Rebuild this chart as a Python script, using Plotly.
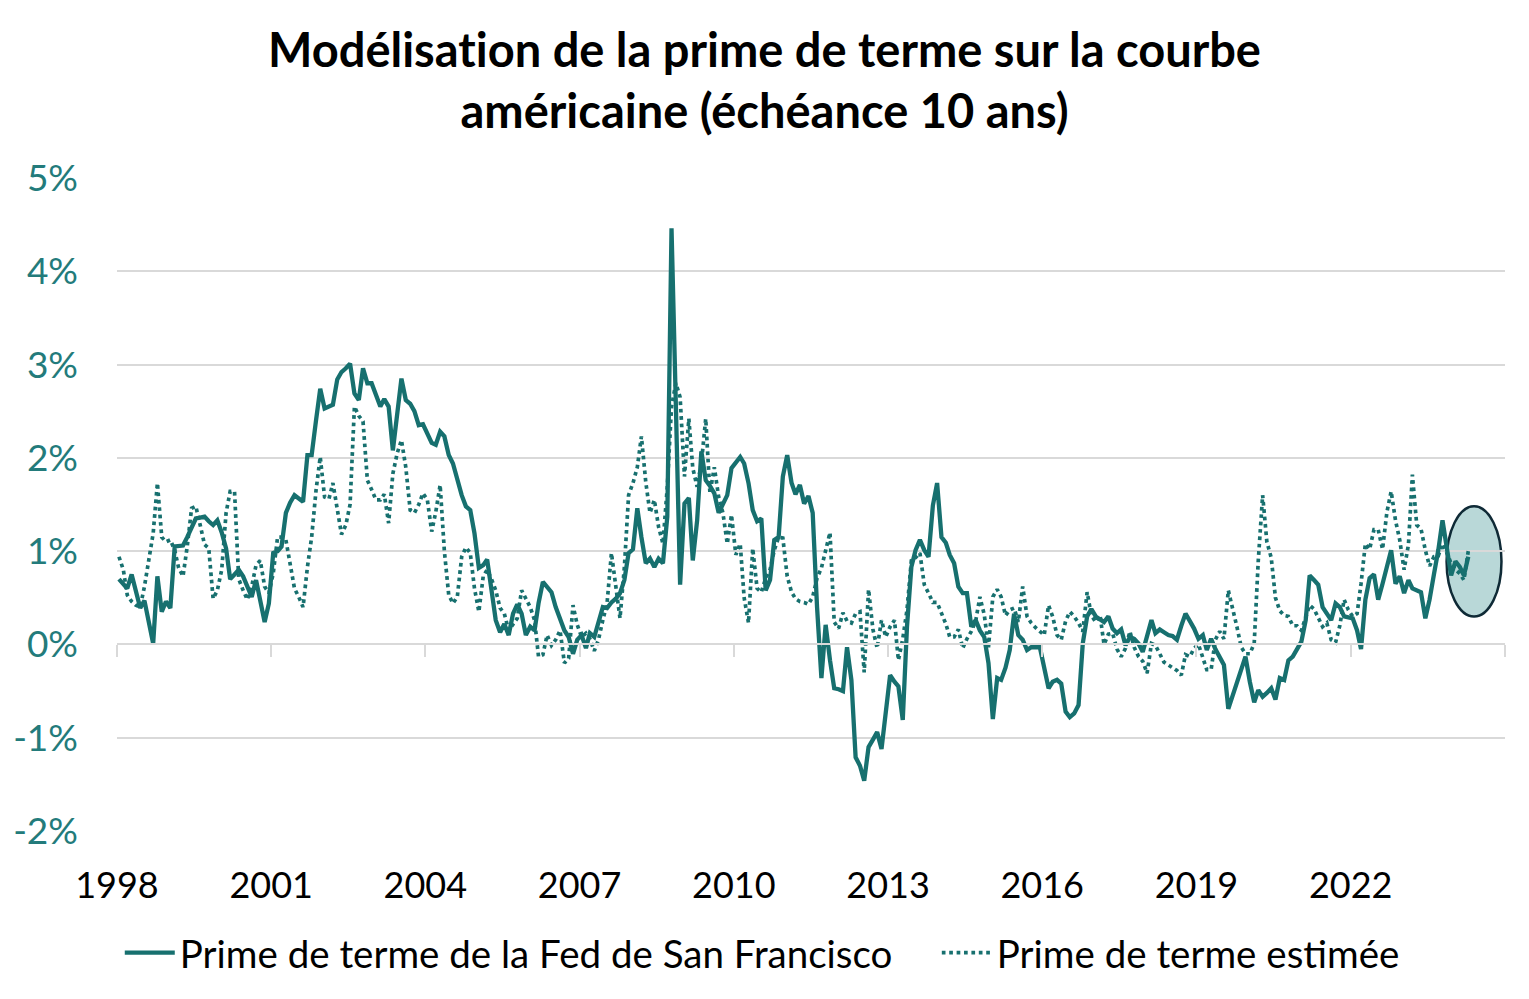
import pandas as pd
import plotly.graph_objects as go

# ---------------- data (monthly, Jan 1998 -> Apr 2024, values in %) ----------------
fed_1998_2003 = [
    0.70, 0.65, 0.60, 0.75, 0.55, 0.39, 0.47, 0.25, 0.01, 0.73, 0.35, 0.46,
    0.39, 1.05, 1.06, 1.06, 1.15, 1.26, 1.35, 1.36, 1.37, 1.32, 1.28, 1.33,
    1.20, 1.03, 0.70, 0.75, 0.80, 0.73, 0.62, 0.51, 0.69, 0.45, 0.24, 0.44,
    0.98, 1.00, 1.05, 1.41, 1.52, 1.60, 1.56, 1.53, 2.03, 2.03, 2.40, 2.74,
    2.53, 2.55, 2.57, 2.84, 2.92, 2.96, 3.01, 2.69, 2.62, 2.96, 2.80, 2.80,
    2.68, 2.55, 2.63, 2.55, 2.08, 2.45, 2.85, 2.62, 2.58, 2.50, 2.35, 2.36,
]
fed_2004_2009 = [
    2.25, 2.16, 2.14, 2.28, 2.23, 2.03, 1.94, 1.76, 1.60, 1.48, 1.44, 1.19,
    0.82, 0.85, 0.91, 0.58, 0.26, 0.13, 0.22, 0.10, 0.33, 0.43, 0.33, 0.10,
    0.19, 0.15, 0.44, 0.67, 0.62, 0.56, 0.40, 0.28, 0.15, 0.08, -0.10, 0.05,
    0.10, -0.04, 0.12, 0.08, 0.23, 0.40, 0.39, 0.45, 0.49, 0.55, 0.69, 0.98,
    1.02, 1.46, 1.15, 0.87, 0.92, 0.83, 0.92, 0.87, 1.37, 4.46, 2.55, 0.64,
    1.51, 1.57, 0.90, 1.33, 2.07, 1.76, 1.70, 1.62, 1.41, 1.50, 1.60, 1.89,
]
fed_2010_2015 = [
    1.96, 2.01, 1.94, 1.73, 1.44, 1.32, 1.35, 0.58, 0.69, 1.12, 1.15, 1.80,
    2.03, 1.73, 1.61, 1.71, 1.51, 1.59, 1.41, 0.40, -0.36, 0.21, -0.17, -0.47,
    -0.48, -0.50, -0.03, -0.38, -1.21, -1.30, -1.46, -1.10, -1.02, -0.94, -1.12, -0.70,
    -0.33, -0.40, -0.45, -0.81, 0.19, 0.83, 1.01, 1.12, 1.01, 0.94, 1.49, 1.73,
    1.15, 1.09, 0.96, 0.87, 0.62, 0.55, 0.55, 0.19, 0.26, 0.15, 0.08, -0.20,
    -0.80, -0.36, -0.38, -0.25, -0.06, 0.33, 0.10, 0.05, -0.06, -0.03, -0.03, -0.03,
]
fed_2016_2024 = [
    -0.25, -0.47, -0.40, -0.38, -0.42, -0.72, -0.78, -0.74, -0.65, 0.01, 0.30, 0.38,
    0.30, 0.27, 0.24, 0.30, 0.17, 0.12, 0.16, -0.01, 0.08, 0.06, 0.01, -0.08,
    0.08, 0.26, 0.12, 0.16, 0.13, 0.10, 0.09, 0.05, 0.20, 0.33, 0.25, 0.17,
    0.06, 0.10, -0.06, 0.06, -0.05, -0.13, -0.22, -0.69, -0.55, -0.41, -0.27, -0.13,
    -0.40, -0.62, -0.49, -0.56, -0.52, -0.47, -0.59, -0.36, -0.38, -0.17, -0.13, -0.05,
    0.03, 0.26, 0.74, 0.69, 0.64, 0.40, 0.33, 0.26, 0.44, 0.40, 0.30, 0.29,
    0.28, 0.15, -0.05, 0.48, 0.71, 0.75, 0.48, 0.65, 0.83, 1.01, 0.65, 0.73,
    0.55, 0.69, 0.60, 0.58, 0.56, 0.28, 0.48, 0.75, 1.01, 1.33, 1.01, 0.74,
    0.89, 0.83, 0.74, 0.94,
]

est_1998_2003 = [
    0.94, 0.80, 0.53, 0.46, 0.42, 0.40, 0.62, 0.90, 1.19, 1.73, 1.15, 1.10,
    1.12, 1.01, 0.82, 0.73, 1.05, 1.46, 1.48, 1.28, 1.07, 1.03, 0.49, 0.58,
    0.80, 1.41, 1.64, 1.64, 0.70, 0.58, 0.48, 0.62, 0.85, 0.90, 0.62, 0.55,
    0.76, 1.15, 1.15, 1.12, 0.85, 0.60, 0.51, 0.40, 0.83, 1.15, 1.65, 2.01,
    1.58, 1.56, 1.73, 1.45, 1.18, 1.28, 1.50, 2.55, 2.45, 2.39, 1.76, 1.66,
    1.55, 1.55, 1.61, 1.30, 1.83, 2.05, 2.19, 1.90, 1.44, 1.41, 1.50, 1.62,
]
est_2004_2009 = [
    1.55, 1.21, 1.42, 1.71, 1.00, 0.53, 0.44, 0.51, 0.94, 1.04, 0.98, 0.60,
    0.35, 0.73, 0.80, 0.70, 0.58, 0.39, 0.33, 0.15, 0.22, 0.28, 0.58, 0.48,
    0.40, 0.26, -0.13, -0.11, 0.10, -0.01, 0.05, 0.15, -0.20, -0.15, 0.42, 0.21,
    0.08, 0.12, 0.06, -0.07, 0.05, 0.26, 0.44, 0.98, 0.60, 0.28, 0.83, 1.60,
    1.73, 1.90, 2.23, 1.74, 1.41, 1.55, 1.26, 1.08, 1.69, 2.55, 2.80, 2.65,
    1.80, 2.42, 1.89, 1.69, 1.94, 2.42, 1.62, 1.90, 1.58, 1.41, 1.08, 1.39,
]
est_2010_2015 = [
    0.96, 1.08, 0.50, 0.23, 1.03, 0.60, 0.56, 0.71, 0.80, 1.01, 1.15, 1.14,
    0.73, 0.56, 0.49, 0.46, 0.45, 0.43, 0.51, 0.71, 0.82, 1.01, 1.20, 0.24,
    0.17, 0.34, 0.25, 0.23, 0.33, 0.35, -0.30, 0.59, 0.16, -0.04, 0.26, 0.08,
    0.19, 0.26, -0.17, 0.06, 0.37, 0.90, 0.93, 0.98, 0.64, 0.55, 0.45, 0.45,
    0.34, 0.22, 0.08, 0.08, 0.16, -0.04, 0.06, 0.14, 0.25, 0.51, 0.32, -0.03,
    0.51, 0.59, 0.51, 0.31, 0.37, 0.39, 0.24, 0.62, 0.30, 0.23, 0.18, 0.14,
]
est_2016_2024 = [
    0.10, 0.42, 0.30, 0.10, 0.05, 0.25, 0.35, 0.30, 0.23, 0.14, 0.56, 0.31,
    0.24, 0.31, 0.00, 0.11, 0.12, -0.05, -0.13, -0.04, 0.14, -0.03, -0.13, -0.18,
    -0.31, 0.01, -0.01, -0.10, -0.19, -0.22, -0.25, -0.28, -0.33, -0.11, -0.13, -0.04,
    0.00, -0.16, -0.27, -0.27, 0.05, 0.14, 0.06, 0.58, 0.39, 0.19, -0.03, -0.10,
    -0.10, 0.01, 0.90, 1.60, 1.10, 0.93, 0.50, 0.36, 0.31, 0.30, 0.20, 0.20,
    0.15, 0.31, 0.42, 0.38, 0.28, 0.19, 0.23, 0.05, 0.02, 0.20, 0.48, 0.37,
    0.30, 0.33, 0.65, 1.08, 1.02, 1.23, 1.23, 1.02, 1.42, 1.64, 1.33, 1.12,
    0.80, 1.07, 1.82, 1.28, 1.24, 1.01, 0.84, 0.94, 0.95, 1.08, 0.98, 0.87,
    0.80, 0.76, 0.69, 1.00,
]

fed_values = fed_1998_2003 + fed_2004_2009 + fed_2010_2015 + fed_2016_2024
est_values = est_1998_2003 + est_2004_2009 + est_2010_2015 + est_2016_2024

start_month = "1998-01-01"
dates = pd.date_range(start_month, periods=len(fed_values), freq="MS") + pd.Timedelta(days=14)

series_names = ["Prime de terme de la Fed de San Francisco", "Prime de terme estimée"]
# (zero-width non-joiner keeps the "ti" pair from being drawn as a ligature)
title_text = "Modélisat\u200cion de la prime de terme sur la courbe<br>américaine (échéance 10 ans)"

y_tick_vals = [-2, -1, 0, 1, 2, 3, 4, 5]
y_tick_text = ["-2%", "-1%", "0%", "1%", "2%", "3%", "4%", "5%"]
x_label_years = ["1998", "2001", "2004", "2007", "2010", "2013", "2016", "2019", "2022"]
x_tick_years = x_label_years + ["2025"]

# highlight ellipse around the latest readings
ellipse_x = ["2023-11-13", "2024-12-07"]
ellipse_y = [0.30, 1.48]

# ---------------- styling ----------------
TEAL = "#17706f"
TICK_TEAL = "#237b7b"
GRID = "#d9d9d9"
FONT = "Lato"
LEGEND_PAD = "\u00a0" * 4  # extra spacing between the two legend entries

fig = go.Figure()
fig.add_trace(go.Scatter(
    x=dates, y=fed_values, name=series_names[0] + LEGEND_PAD, mode="lines",
    line=dict(color=TEAL, width=4.3),
))
fig.add_trace(go.Scatter(
    x=dates, y=est_values, name=series_names[1], mode="lines",
    line=dict(color=TEAL, width=3.7, dash="dot"),
))
# helper trace so the tick axis drawn on the 0% line is rendered
fig.add_trace(go.Scatter(
    x=[dates[0]], y=[None], xaxis="x2", yaxis="y", showlegend=False,
    hoverinfo="skip", mode="lines",
))

x_range = ["1998-01-01", "2025-01-01"]
tick_dates = [f"{y}-01-01" for y in x_tick_years]
label_dates = [f"{y}-01-01" for y in x_label_years]

fig.update_layout(
    width=1529, height=999,
    paper_bgcolor="white", plot_bgcolor="white",
    margin=dict(l=117, r=24, t=178, b=168, autoexpand=False),
    font=dict(family=FONT, color="black", size=36),
    title=dict(
        text=title_text, x=0.5, xref="container", xanchor="center",
        y=0.933, yref="container", yanchor="top",
        font=dict(family=FONT, size=47, color="black", weight="bold"),
    ),
    xaxis=dict(
        type="date", range=x_range,
        tickmode="array", tickvals=label_dates, ticktext=x_label_years,
        showgrid=False, zeroline=False, showline=False, ticks="",
        tickfont=dict(family=FONT, size=36, color="black"),
        ticklabelstandoff=30, tickangle=0, automargin=False,
    ),
    xaxis2=dict(
        type="date", range=x_range, overlaying="x", anchor="free",
        position=2 / 7, side="bottom",
        tickmode="array", tickvals=tick_dates, showticklabels=False,
        ticks="outside", ticklen=12, tickwidth=1.5, tickcolor=GRID,
        showline=True, linecolor=GRID, linewidth=1.5,
        showgrid=False, zeroline=False, automargin=False,
    ),
    yaxis=dict(
        range=[-2, 5], tickmode="array", tickvals=y_tick_vals, ticktext=y_tick_text,
        showgrid=True, gridcolor=GRID, gridwidth=1.5, zeroline=False,
        showline=False, ticks="",
        tickfont=dict(family=FONT, size=37, color=TICK_TEAL),
        ticklabelstandoff=38, automargin=False,
    ),
    legend=dict(
        orientation="h", x=0.002, xanchor="left",
        y=-0.187, yanchor="middle",
        font=dict(family=FONT, size=38.5, color="black"),
        itemwidth=50, bgcolor="rgba(0,0,0,0)",
    ),
    showlegend=True,
    shapes=[dict(
        type="circle", xref="x", yref="y",
        x0=ellipse_x[0], x1=ellipse_x[1], y0=ellipse_y[0], y1=ellipse_y[1],
        fillcolor="#b9d8d8", line=dict(color="#0f2a36", width=2.5),
        layer="below",
    )],
)

fig.write_html("out.html")
